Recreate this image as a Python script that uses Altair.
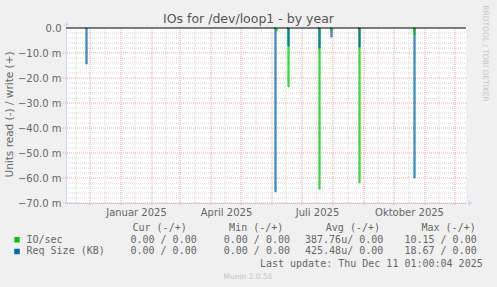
import altair as alt
import pandas as pd

# ---------------- data ----------------
TITLE = "IOs for /dev/loop1 - by year"
Y_TITLE = "Units read (-) / write (+)"
SERIES = ["IO/sec", "Req Size (KB)"]
COLORS = ["#00CC00", "#0066B3"]

IO_DATES = ["2025-06-05", "2025-06-17", "2025-07-18", "2025-07-30", "2025-08-27", "2025-10-21"]
IO_VALUES = [-1.2, -23.5, -64.4, -1.0, -61.9, -2.8]
REQ_DATES = ["2024-11-27", "2025-06-04", "2025-06-17", "2025-07-18", "2025-07-30", "2025-08-27", "2025-10-21"]
REQ_VALUES = [-14.4, -65.5, -7.2, -8.0, -3.6, -7.6, -59.9]

Y_MAJOR = [0, -10, -20, -30, -40, -50, -60, -70]
Y_MINOR = [-2, -4, -6, -8, -12, -14, -16, -18, -22, -24, -26, -28, -32, -34, -36, -38,
           -42, -44, -46, -48, -52, -54, -56, -58, -62, -64, -66, -68]
MONTH_STARTS = ["2024-12-01", "2025-01-01", "2025-02-01", "2025-03-01", "2025-04-01", "2025-05-01",
                "2025-06-01", "2025-07-01", "2025-08-01", "2025-09-01", "2025-10-01", "2025-11-01",
                "2025-12-01"]
MID_MONTHS = ["2024-11-17", "2024-12-16", "2025-01-15", "2025-02-15", "2025-03-16", "2025-04-15",
              "2025-05-16", "2025-06-15", "2025-07-16", "2025-08-16", "2025-09-15", "2025-10-16",
              "2025-11-15"]
X_LABEL_DATES = [(2025, 1, 16), (2025, 4, 16), (2025, 7, 16), (2025, 10, 16)]
X_START = (2024, 11, 7)
X_END = (2025, 12, 12)

HEADERS = ["Cur (-/+)", "Min (-/+)", "Avg (-/+)", "Max (-/+)"]
IO_STATS = ["0.00 / 0.00", "0.00 / 0.00", "387.76u/ 0.00", "10.15 / 0.00"]
REQ_STATS = ["0.00 / 0.00", "0.00 / 0.00", "425.48u/ 0.00", "18.67 / 0.00"]
LAST_UPDATE = "Last update: Thu Dec 11 01:00:04 2025"
WATERMARK = "Munin 2.0.56"
SIDE_TEXT = "RRDTOOL / TOBI OETIKER"

# ---------------- layout ----------------
L, T, W, H = 66, 28, 400, 175
FONT = "DejaVu Sans"
MONO = "DejaVu Sans Mono"
FG = "#666666"
AXIS_C = "#CFD6F8"

# build spike table
rows = []
day = pd.Timedelta(days=1)
for s, dates, vals in [(SERIES[0], IO_DATES, IO_VALUES), (SERIES[1], REQ_DATES, REQ_VALUES)]:
    for i, (d, v) in enumerate(zip(dates, vals)):
        t = pd.Timestamp(d)
        key = f"{s}-{i}"
        for k, (tt, vv) in enumerate([(t - day, 0.0), (t, v), (t + day, 0.0)]):
            rows.append(dict(series=s, key=key, mag=abs(v), date=tt, value=vv, k=k))
spikes = pd.DataFrame(rows).sort_values(["mag", "key", "k"], ascending=[False, True, True])

xs = alt.Scale(domain=[alt.DateTime(year=X_START[0], month=X_START[1], date=X_START[2]),
                       alt.DateTime(year=X_END[0], month=X_END[1], date=X_END[2])])
ys = alt.Scale(domain=[-70, 0], nice=False, zero=False)

months_js = "['Januar','Februar','März','April','Mai','Juni','Juli','August','September','Oktober','November','Dezember']"
xaxis = alt.Axis(
    values=[alt.DateTime(year=a, month=b, date=c) for a, b, c in X_LABEL_DATES],
    labelExpr=months_js + "[month(datum.value)] + ' ' + year(datum.value)",
    ticks=False, grid=False, domainColor=AXIS_C, domainWidth=1,
    labelFont=FONT, labelFontSize=10, labelColor=FG, labelPadding=4, title=None,
    labelOverlap=False, labelFlush=False,
)
yaxis = alt.Axis(
    values=Y_MAJOR,
    labelExpr="datum.value == 0 ? '0.0\u2007' : format(datum.value, '.1f') + ' m'",
    ticks=False, grid=False, domainColor=AXIS_C, domainWidth=1,
    labelFont=FONT, labelFontSize=10, labelColor=FG, labelPadding=5, title=None,
    labelOverlap=False, labelFlush=False,
)

X = lambda: alt.X("date:T", scale=xs, axis=xaxis)
Y = lambda: alt.Y("value:Q", scale=ys, axis=yaxis)

GRID_MINOR = "#d4d4d4"
GRID_MAJOR = "#eba3a3"

h_minor = alt.Chart(pd.DataFrame({"value": Y_MINOR})).mark_rule(
    color=GRID_MINOR, strokeDash=[1, 1], strokeWidth=1
).encode(y=Y(), x=alt.value(0), x2=alt.value(W))

h_major = alt.Chart(pd.DataFrame({"value": Y_MAJOR[1:]})).mark_rule(
    color=GRID_MAJOR, strokeDash=[1, 1], strokeWidth=1
).encode(y=Y(), x=alt.value(-3), x2=alt.value(W))

v_minor = alt.Chart(pd.DataFrame({"date": pd.to_datetime(MID_MONTHS)})).mark_rule(
    color=GRID_MINOR, strokeDash=[1, 1], strokeWidth=1
).encode(x=X(), y=alt.value(0), y2=alt.value(H))

v_major = alt.Chart(pd.DataFrame({"date": pd.to_datetime(MONTH_STARTS)})).mark_rule(
    color=GRID_MAJOR, strokeDash=[1, 1], strokeWidth=1
).encode(x=X(), y=alt.value(0), y2=alt.value(H + 3))

lines = alt.Chart(spikes).mark_line(interpolate="step-after", strokeWidth=1).encode(
    x=X(), y=Y(),
    color=alt.Color("series:N", scale=alt.Scale(domain=SERIES, range=COLORS), legend=None),
    detail="key:N",
    order="k:Q",
)

zero = alt.Chart(pd.DataFrame({"value": [0]})).mark_rule(color="#000000", strokeWidth=1).encode(
    y=Y(), x=alt.value(0), x2=alt.value(W)
)

arrows = [
    alt.Chart(alt.Data(values=[{}])).mark_point(shape="triangle-up", filled=True, size=28,
                                                  color=AXIS_C, opacity=1).encode(
        x=alt.value(0.5), y=alt.value(-4)),
    alt.Chart(alt.Data(values=[{}])).mark_point(shape="triangle-right", filled=True, size=28,
                                                  color=AXIS_C, opacity=1).encode(
        x=alt.value(W + 4.5), y=alt.value(H)),
]


def txt(text, x, y, size=10, font=FONT, color=FG, align="left", angle=0, baseline="middle"):
    kw = dict(text=text, font=font, fontSize=size, color=color, align=align, baseline=baseline)
    if angle:
        kw["angle"] = angle
    return alt.Chart(alt.Data(values=[{}])).mark_text(**kw).encode(
        x=alt.value(x - L), y=alt.value(y - T))


texts = [
    txt(TITLE, 248.5, 19, size=12.5, color="#555555", align="center"),
    txt(Y_TITLE, 10, 114.5, size=10.5, align="center", angle=270),
    txt(SIDE_TEXT, 485, 53.5, size=7.5, color="#c6c6c6", align="center", angle=90),
    txt(WATERMARK, 248, 276.5, size=7.5, color="#c6c6c6", align="center"),
    txt(LAST_UPDATE, 482.7, 263.7, font=MONO, align="right"),
    txt(SERIES[0], 26.5, 239.5, font=MONO),
    txt(SERIES[1], 26.5, 251.2, font=MONO),
]
for h, xr in zip(HEADERS, [186.7, 283.3, 380, 475.7]):
    texts.append(txt(h, xr, 227.8, font=MONO, align="right"))
for s, xr in zip(IO_STATS, [196.7, 290, 383.3, 476.7]):
    texts.append(txt(s, xr, 239.5, font=MONO, align="right"))
for s, xr in zip(REQ_STATS, [196.7, 290, 383.3, 476.7]):
    texts.append(txt(s, xr, 251.2, font=MONO, align="right"))

swatches = [
    alt.Chart(alt.Data(values=[{}])).mark_square(size=30, color=c, opacity=1).encode(
        x=alt.value(17 - L), y=alt.value(yy - T))
    for c, yy in zip(COLORS, [239.8, 251.5])
]

chart = alt.layer(
    h_minor, v_minor, h_major, v_major, lines, zero, *arrows, *swatches, *texts
).properties(
    width=W, height=H,
    padding={"left": L, "top": T, "right": 497 - L - W, "bottom": 287 - T - H},
    autosize=alt.AutoSizeParams(type="none"),
).configure(background="#F0F0F0").configure_view(fill="#FFFFFF", stroke=None)

chart.save("out.html", embed_options={"renderer": "svg", "actions": False})
